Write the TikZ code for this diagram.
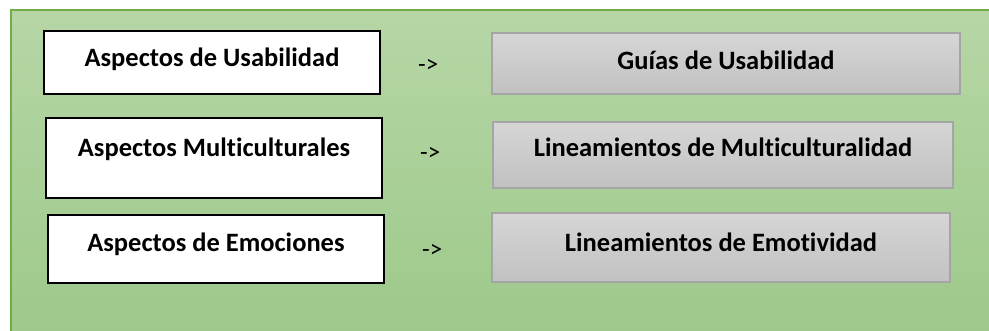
\documentclass[tikz,border=0pt]{standalone}
\usepackage{fontspec}
\setmainfont{Carlito}[Ligatures=NoCommon]
\definecolor{bgtop}{RGB}{182,214,166}
\definecolor{bgbot}{RGB}{157,201,138}
\definecolor{bgedge}{RGB}{112,173,71}
\definecolor{graytop}{RGB}{214,214,214}
\definecolor{graybot}{RGB}{193,193,193}
\definecolor{grayedge}{RGB}{165,165,165}
\tikzset{
  lbox/.style={draw=black, fill=white, line width=1.5pt, rectangle, inner sep=0pt},
  rbox/.style={draw=grayedge, top color=graytop, bottom color=graybot, line width=1.5pt, rectangle, inner sep=0pt},
  lbl/.style={anchor=base, inner sep=0pt, font=\fontsize{26.5}{31}\selectfont\bfseries},
  arr/.style={anchor=base west, inner sep=0pt, font=\fontsize{25}{30}\selectfont}
}
\begin{document}
\begin{tikzpicture}[x=1pt,y=1pt]
\useasboundingbox (0,0) rectangle (989,330);
\fill[top color=bgtop, bottom color=bgbot] (10.5,-5) rectangle (995,319.5);
\draw[bgedge, line width=2pt] (10.5,-5) -- (10.5,319.5) -- (995,319.5);
% left boxes
\node[lbox, minimum width=336pt, minimum height=63pt] (L1) at (212,267.5) {};
\node[lbox, minimum width=336pt, minimum height=80pt] (L2) at (214,172) {};
\node[lbox, minimum width=336pt, minimum height=68pt] (L3) at (216,81) {};
% right boxes
\node[rbox, minimum width=468pt, minimum height=61pt] (R1) at (726,266.5) {};
\node[rbox, minimum width=460pt, minimum height=66pt] (R2) at (723,175) {};
\node[rbox, minimum width=458pt, minimum height=69pt] (R3) at (721,82.5) {};
% labels
\node[lbl] (tL1) at (212,263) {Aspectos de Usabilidad};
\node[lbl] (tL2) at (214,173) {Aspectos Multiculturales};
\node[lbl] (tL3) at (216,79) {Aspectos de Emociones};
\node[lbl] (tR1) at (726,260) {Guías de Usabilidad};
\node[lbl] (tR2) at (723,173) {Lineamientos de Multiculturalidad};
\node[lbl] (tR3) at (721,79) {Lineamientos de Emotividad};
% arrows as text
\node[arr] (a1) at (418,257) {->};
\node[arr] (a2) at (420,169) {->};
\node[arr] (a3) at (422,73) {->};
\end{tikzpicture}
\end{document}
